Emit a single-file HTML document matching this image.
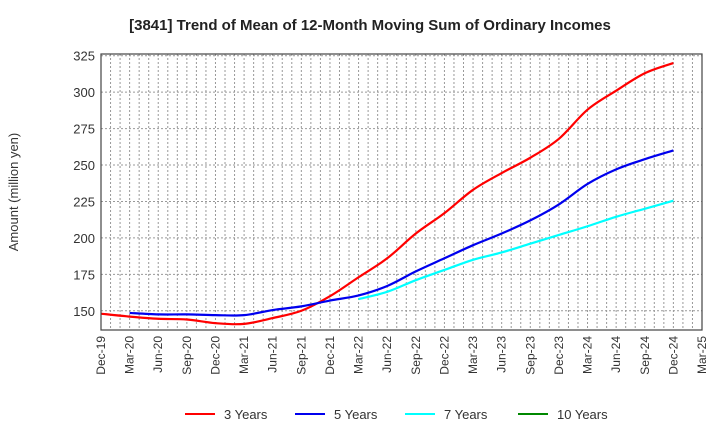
<!DOCTYPE html>
<html><head><meta charset="utf-8"><style>
body{margin:0;background:#fff;font-family:"Liberation Sans",sans-serif}
</style></head><body>
<svg id="c" width="720" height="440" xmlns="http://www.w3.org/2000/svg" font-family="Liberation Sans, sans-serif">
<text x="370" y="30" text-anchor="middle" font-size="15" font-weight="bold" fill="#222">[3841]  Trend of Mean of 12-Month Moving Sum of Ordinary Incomes</text>
<text transform="translate(18,192) rotate(-90)" text-anchor="middle" font-size="13" fill="#333">Amount (million yen)</text>
<g id="grid"></g><g id="series"></g><g id="axes"></g><g id="legend"></g>
</svg>
<script>
const months=["Dec-19","Mar-20","Jun-20","Sep-20","Dec-20","Mar-21","Jun-21","Sep-21","Dec-21","Mar-22","Jun-22","Sep-22","Dec-22","Mar-23","Jun-23","Sep-23","Dec-23","Mar-24","Jun-24","Sep-24","Dec-24","Mar-25"];
const yTicks=[150,175,200,225,250,275,300,325];
const s3=[148,146,144.5,144,141.5,141,145,150,160,173,186,203,217,233,244.5,255,268,288,301,313,320];
const s5=[null,148.5,147.5,147.5,147,147,150.5,153,157,160.5,167,177,186,195,203,212,223,237,247,254,260];
const s7=[null,null,null,null,null,null,null,null,null,158,163,171,178,185,190,196,202,208,214.5,220,225.5];
const s10=[];
const NS="http://www.w3.org/2000/svg";
const L=101,R=702,T=54,B=330,ymin=136.8,ymax=326.2,nM=63;
const X=q=>L+q*3*(R-L)/nM, Xm=m=>L+m*(R-L)/nM;
const Y=v=>B-(v-ymin)*(B-T)/(ymax-ymin);
function mk(t,a,p){const e=document.createElementNS(NS,t);for(const k in a)e.setAttribute(k,a[k]);(p||document.getElementById('c')).appendChild(e);return e;}
const g=document.getElementById('grid'),ax=document.getElementById('axes'),se=document.getElementById('series'),lg=document.getElementById('legend');
for(let m=1;m<nM;m++){const l=mk('line',{x1:Xm(m),x2:Xm(m),y1:T,y2:B,stroke:'#999','stroke-dasharray':'2,2','stroke-width':1},g);
}
yTicks.forEach(v=>{const l=mk('line',{x1:L,x2:R,y1:Y(v),y2:Y(v),stroke:'#999','stroke-dasharray':'2,2'},g);

const t=mk('text',{x:L-6,y:Y(v)+5,'text-anchor':'end','font-size':13,fill:'#333'},ax);t.textContent=v;
});
const fr=mk('rect',{x:L,y:T,width:R-L,height:B-T,fill:'none',stroke:'#444','stroke-width':1.2},ax);

months.forEach((m,i)=>{const x=X(i);const t=mk('text',{transform:`translate(${x+4},${B+6}) rotate(-90)`,'text-anchor':'end','font-size':12,fill:'#333'},ax);t.textContent=m;
});
function path(arr){const p=[];arr.forEach((v,i)=>{if(v!=null)p.push([X(i),Y(v)]);});if(!p.length)return'';
let d=`M${p[0][0]},${p[0][1]}`;for(let i=0;i<p.length-1;i++){const p0=p[i-1]||p[i],p1=p[i],p2=p[i+1],p3=p[i+2]||p2;
d+=` C${p1[0]+(p2[0]-p0[0])/6},${p1[1]+(p2[1]-p0[1])/6} ${p2[0]-(p3[0]-p1[0])/6},${p2[1]-(p3[1]-p1[1])/6} ${p2[0]},${p2[1]}`;}return d;}
const ser=[[s3,'#ff0000','3 Years','series-3-years'],[s5,'#0000ee','5 Years','series-5-years'],[s7,'#00ffff','7 Years','series-7-years'],[s10,'#008800','10 Years','series-10-years']];
const lx=[185,295,405,518];
ser.forEach((s,i)=>{const d=path(s[0]);if(d){const p=mk('path',{d,fill:'none',stroke:s[1],'stroke-width':2.2},se);
}
const l=mk('line',{x1:lx[i],x2:lx[i]+30,y1:414,y2:414,stroke:s[1],'stroke-width':2},lg);

const t=mk('text',{x:lx[i]+39,y:419,'font-size':13,fill:'#333'},lg);t.textContent=s[2];
});
</script></body></html>
